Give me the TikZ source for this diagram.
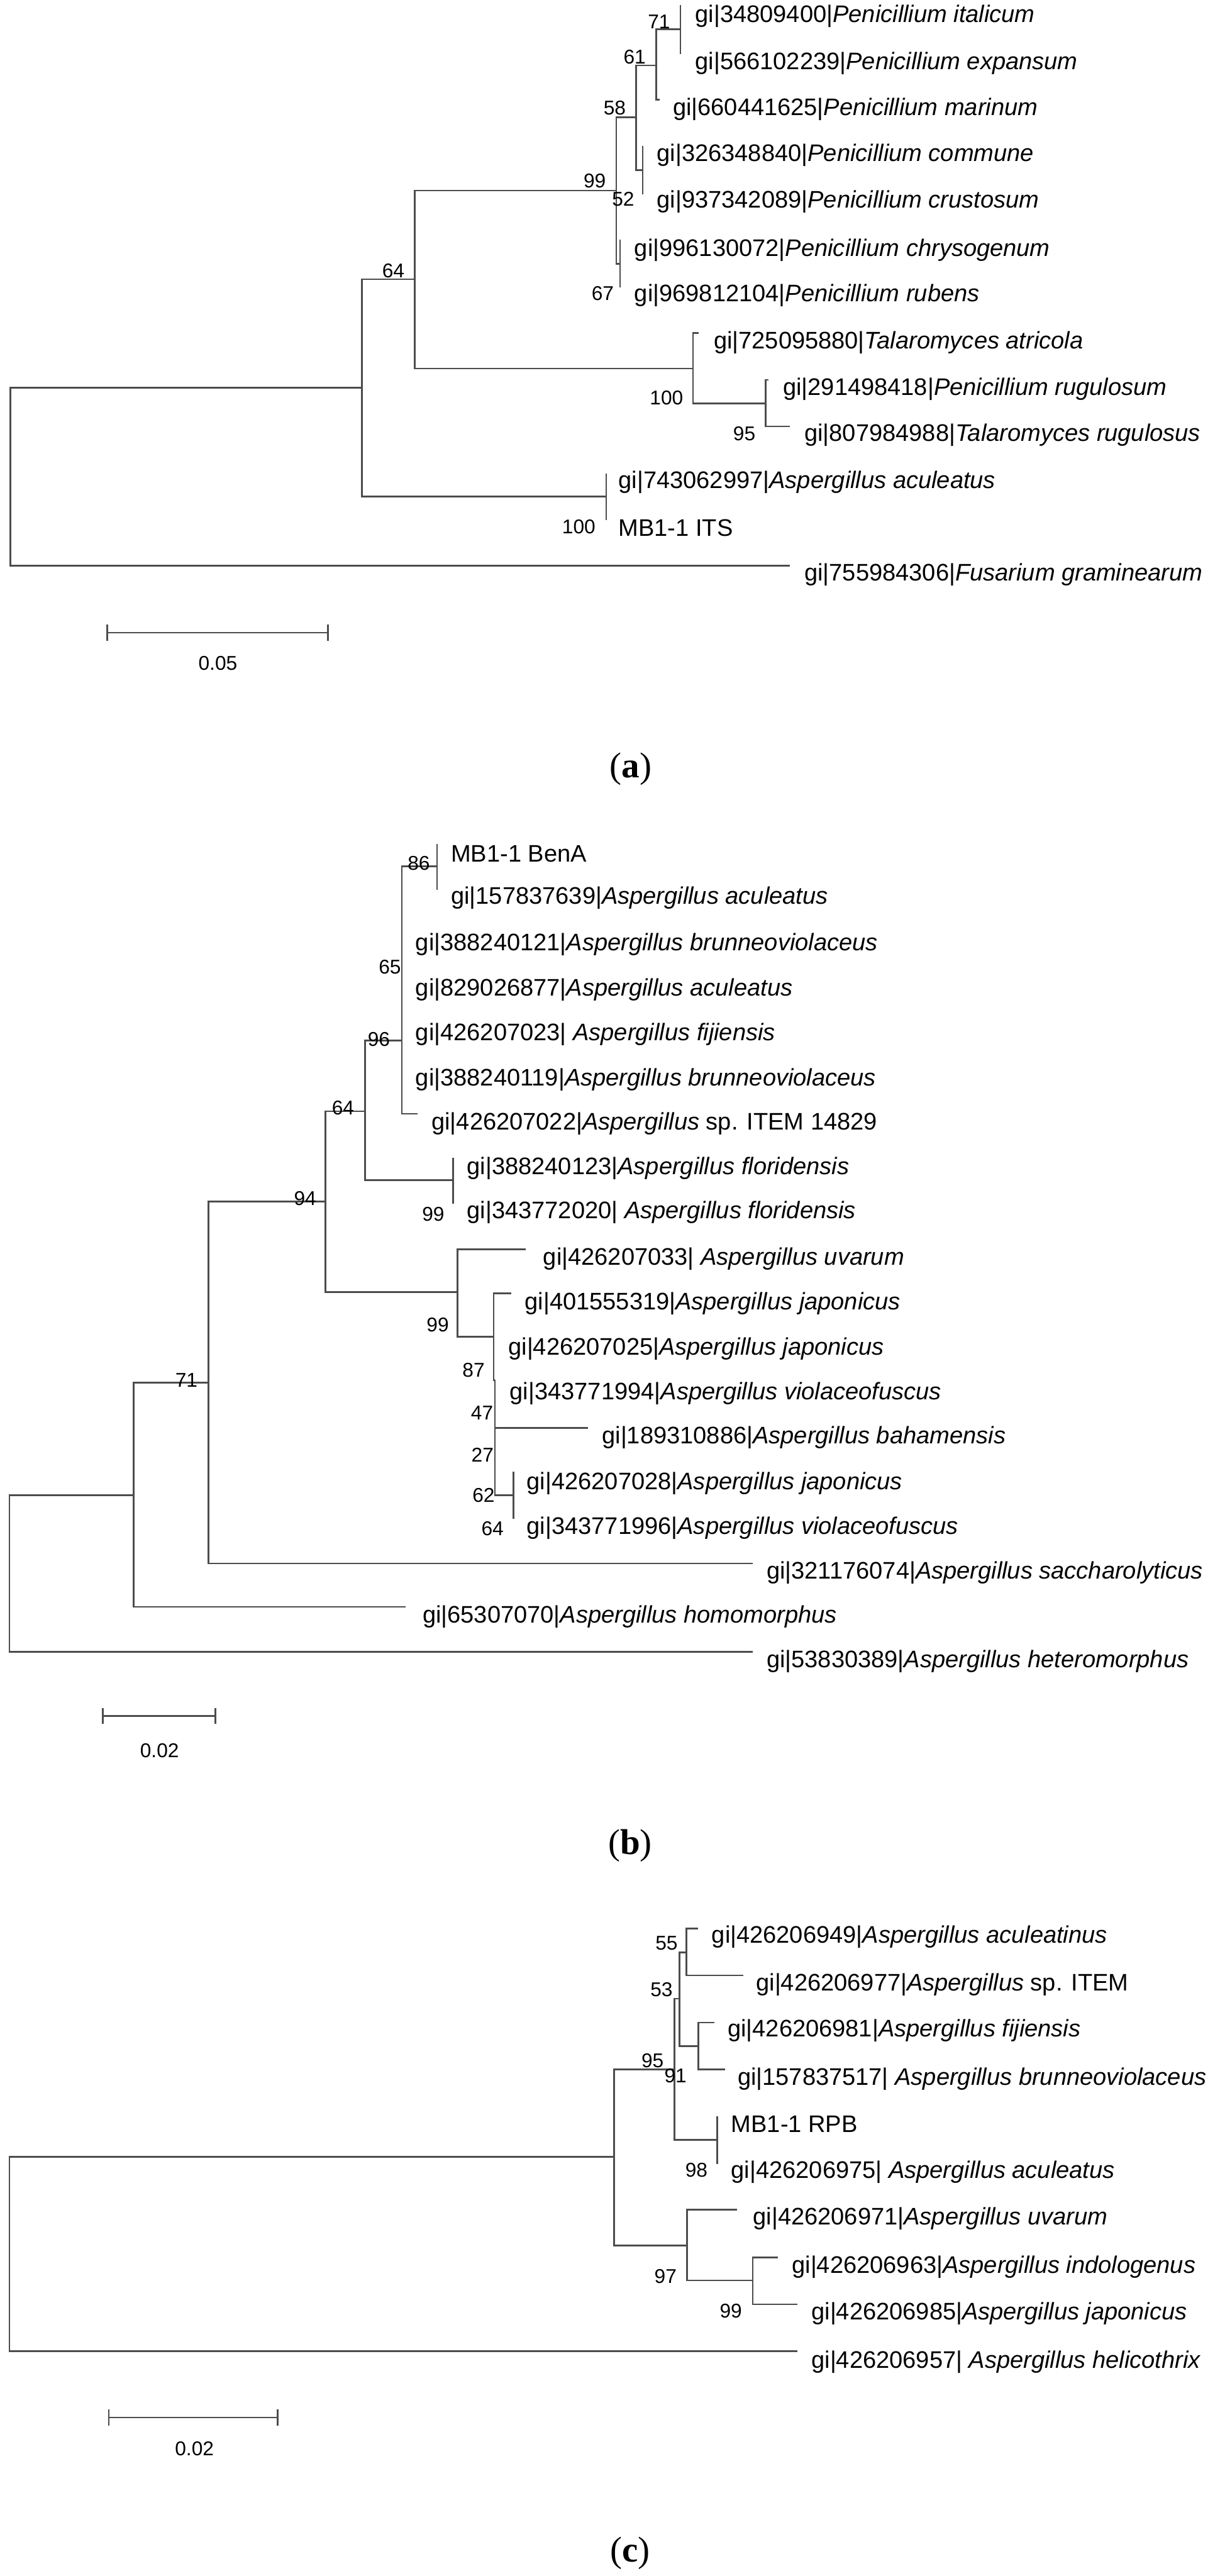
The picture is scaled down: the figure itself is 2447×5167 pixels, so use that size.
\documentclass[tikz,border=0pt]{standalone}
\usepackage{fontspec}
\setmainfont{Liberation Sans}
\newfontfamily\capfont{Liberation Serif}
\begin{document}
\begin{tikzpicture}[x=0.25pt,y=-0.25pt,
  br/.style={draw=black!70,line width=0.8pt},
  leaf/.style={anchor=west,inner sep=0pt,font=\fontsize{12}{14}\selectfont},
  bs/.style={inner sep=0pt,font=\fontsize{10}{12}\selectfont},
  captext/.style={inner sep=0pt,font=\capfont\fontsize{18}{20}\selectfont}]
\useasboundingbox (0,0) rectangle (2447,5167);
% ================= tree (a) =================
\coordinate (aR) at (21,956);
\coordinate (a64) at (726,778);
\coordinate (aA) at (832,560);
\coordinate (a99) at (1236,382);
\coordinate (a58) at (1276,235);
\coordinate (a61) at (1316,131);
\coordinate (a71) at (1365,59);
\coordinate (a52) at (1289,341);
\coordinate (a67) at (1244,529);
\coordinate (aT) at (1390,739);
\coordinate (a95) at (1536,809);
\coordinate (aMB) at (1216,996);
\coordinate (ta1) at (1366,12);
\coordinate (ta2) at (1366,107);
\coordinate (ta3) at (1323,200);
\coordinate (ta4) at (1290,294);
\coordinate (ta5) at (1290,388);
\coordinate (ta6) at (1245,482);
\coordinate (ta7) at (1245,575);
\coordinate (ta8) at (1402,668);
\coordinate (ta9) at (1542,762);
\coordinate (ta10) at (1585,855);
\coordinate (ta11) at (1217,952);
\coordinate (ta12) at (1217,1042);
\coordinate (ta13) at (1585,1135);
\draw[br] (aR) |- (a64); \draw[br] (aR) |- (ta13);
\draw[br] (a64) |- (aA); \draw[br] (a64) |- (aMB);
\draw[br] (aA) |- (a99); \draw[br] (aA) |- (aT);
\draw[br] (a99) |- (a58); \draw[br] (a99) |- (a67);
\draw[br] (a58) |- (a61); \draw[br] (a58) |- (a52);
\draw[br] (a61) |- (a71); \draw[br] (a61) |- (ta3);
\draw[br] (a71) |- (ta1); \draw[br] (a71) |- (ta2);
\draw[br] (a52) |- (ta4); \draw[br] (a52) |- (ta5);
\draw[br] (a67) |- (ta6); \draw[br] (a67) |- (ta7);
\draw[br] (aT) |- (ta8); \draw[br] (aT) |- (a95);
\draw[br] (a95) |- (ta9); \draw[br] (a95) |- (ta10);
\draw[br] (aMB) |- (ta11); \draw[br] (aMB) |- (ta12);
\node[leaf] (la1) at (1394,33) {gi|34809400|\textit{Penicillium italicum}};
\node[leaf] (la2) at (1394,127) {gi|566102239|\textit{Penicillium expansum}};
\node[leaf] (la3) at (1349,219) {gi|660441625|\textit{Penicillium marinum}};
\node[leaf] (la4) at (1317,311) {gi|326348840|\textit{Penicillium commune}};
\node[leaf] (la5) at (1317,405) {gi|937342089|\textit{Penicillium crustosum}};
\node[leaf] (la6) at (1272,502) {gi|996130072|\textit{Penicillium chrysogenum}};
\node[leaf] (la7) at (1272,592) {gi|969812104|\textit{Penicillium rubens}};
\node[leaf] (la8) at (1431,687) {gi|725095880|\textit{Talaromyces atricola}};
\node[leaf] (la9) at (1570,780) {gi|291498418|\textit{Penicillium rugulosum}};
\node[leaf] (la10) at (1613,872) {gi|807984988|\textit{Talaromyces rugulosus}};
\node[leaf] (la11) at (1240,967) {gi|743062997|\textit{Aspergillus aculeatus}};
\node[leaf] (la12) at (1240,1059) {MB1-1 ITS};
\node[leaf] (la13) at (1613,1153) {gi|755984306|\textit{Fusarium graminearum}};
\node[bs] (ba1) at (1322,44) {71};
\node[bs] (ba2) at (1273,114) {61};
\node[bs] (ba3) at (1233,216) {58};
\node[bs] (ba4) at (1193,363) {99};
\node[bs] (ba5) at (1250,400) {52};
\node[bs] (ba6) at (1209,588) {67};
\node[bs] (ba7) at (789,543) {64};
\node[bs] (ba8) at (1337,798) {100};
\node[bs] (ba9) at (1493,870) {95};
\node[bs] (ba10) at (1161,1057) {100};
\coordinate (sa1) at (215,1269);
\coordinate (sa2) at (658,1269);
\draw[br] (sa1) -- (sa2);
\draw[br] (sa1) ++(0,-16) -- ++(0,32);
\draw[br] (sa2) ++(0,-16) -- ++(0,32);
\node[bs] (sla) at (437,1330) {0.05};
\node[captext] (capa) at (1265,1543) {(\textbf{a})};
% ================= tree (b) =================
\coordinate (bR) at (19,3156);
\coordinate (b71) at (268,2999);
\coordinate (b94) at (418,2773);
\coordinate (b64) at (653,2410);
\coordinate (b96) at (732,2229);
\coordinate (b65) at (806,2087);
\coordinate (b86) at (877,1738);
\coordinate (bFl) at (909,2367);
\coordinate (b99) at (918,2592);
\coordinate (b87) at (990,2681);
\coordinate (b47) at (993,2768);
\coordinate (b62) at (1030,2999);
\coordinate (tb1) at (878,1695);
\coordinate (tb2) at (878,1784);
\coordinate (tb3) at (806,1875);
\coordinate (tb7) at (838,2234);
\coordinate (tb8) at (910,2324);
\coordinate (tb9) at (910,2413);
\coordinate (tb10) at (1055,2506);
\coordinate (tb11) at (1025,2594);
\coordinate (tb14) at (1180,2864);
\coordinate (tb15) at (1031,2953);
\coordinate (tb16) at (1031,3045);
\coordinate (tb17) at (1510,3136);
\coordinate (tb18) at (814,3223);
\coordinate (tb19) at (1510,3313);
\draw[br] (bR) |- (b71); \draw[br] (bR) |- (tb19);
\draw[br] (b71) |- (b94); \draw[br] (b71) |- (tb18);
\draw[br] (b94) |- (b64); \draw[br] (b94) |- (tb17);
\draw[br] (b64) |- (b96); \draw[br] (b64) |- (b99);
\draw[br] (b96) |- (b65); \draw[br] (b96) |- (bFl);
\draw[br] (b65) |- (b86); \draw[br] (b65) |- (tb7); \draw[br] (b65) |- (tb3);
\draw[br] (b86) |- (tb1); \draw[br] (b86) |- (tb2);
\draw[br] (bFl) |- (tb8); \draw[br] (bFl) |- (tb9);
\draw[br] (b99) |- (tb10); \draw[br] (b99) |- (b87);
\draw[br] (b87) |- (tb11); \draw[br] (b87) |- (b47);
\draw[br] (b47) |- (tb14); \draw[br] (b47) |- (b62);
\draw[br] (b62) |- (tb15); \draw[br] (b62) |- (tb16);
\node[leaf] (lb1) at (904,1713) {MB1-1 BenA};
\node[leaf] (lb2) at (904,1801) {gi|157837639|\textit{Aspergillus aculeatus}};
\node[leaf] (lb3) at (833,1894) {gi|388240121|\textit{Aspergillus brunneoviolaceus}};
\node[leaf] (lb4) at (833,1985) {gi|829026877|\textit{Aspergillus aculeatus}};
\node[leaf] (lb5) at (833,2075) {gi|426207023| \textit{Aspergillus fijiensis}};
\node[leaf] (lb6) at (833,2165) {gi|388240119|\textit{Aspergillus brunneoviolaceus}};
\node[leaf] (lb7) at (865,2254) {gi|426207022|\textit{Aspergillus} sp. ITEM 14829};
\node[leaf] (lb8) at (936,2343) {gi|388240123|\textit{Aspergillus floridensis}};
\node[leaf] (lb9) at (936,2432) {gi|343772020| \textit{Aspergillus floridensis}};
\node[leaf] (lb10) at (1089,2525) {gi|426207033| \textit{Aspergillus uvarum}};
\node[leaf] (lb11) at (1052,2615) {gi|401555319|\textit{Aspergillus japonicus}};
\node[leaf] (lb12) at (1019,2705) {gi|426207025|\textit{Aspergillus japonicus}};
\node[leaf] (lb13) at (1022,2795) {gi|343771994|\textit{Aspergillus violaceofuscus}};
\node[leaf] (lb14) at (1207,2884) {gi|189310886|\textit{Aspergillus bahamensis}};
\node[leaf] (lb15) at (1056,2975) {gi|426207028|\textit{Aspergillus japonicus}};
\node[leaf] (lb16) at (1056,3065) {gi|343771996|\textit{Aspergillus violaceofuscus}};
\node[leaf] (lb17) at (1537,3154) {gi|321176074|\textit{Aspergillus saccharolyticus}};
\node[leaf] (lb18) at (847,3243) {gi|65307070|\textit{Aspergillus homomorphus}};
\node[leaf] (lb19) at (1537,3332) {gi|53830389|\textit{Aspergillus heteromorphus}};
\node[bs] (bb1) at (840,1731) {86};
\node[bs] (bb2) at (782,1939) {65};
\node[bs] (bb3) at (760,2085) {96};
\node[bs] (bb4) at (688,2222) {64};
\node[bs] (bb5) at (869,2435) {99};
\node[bs] (bb6) at (612,2404) {94};
\node[bs] (bb7) at (878,2657) {99};
\node[bs] (bb8) at (950,2748) {87};
\node[bs] (bb9) at (967,2834) {47};
\node[bs] (bb10) at (968,2918) {27};
\node[bs] (bb11) at (970,2999) {62};
\node[bs] (bb12) at (988,3066) {64};
\node[bs] (bb13) at (374,2768) {71};
\coordinate (sb1) at (206,3442);
\coordinate (sb2) at (432,3442);
\draw[br] (sb1) -- (sb2);
\draw[br] (sb1) ++(0,-16) -- ++(0,32);
\draw[br] (sb2) ++(0,-16) -- ++(0,32);
\node[bs] (slb) at (320,3512) {0.02};
\node[captext] (capb) at (1264,3702) {(\textbf{b})};
% ================= tree (c) =================
\coordinate (cR) at (19,4521);
\coordinate (cX) at (1232,4326);
\coordinate (c95) at (1353,4151);
\coordinate (c53) at (1363,4009);
\coordinate (c55) at (1377,3916);
\coordinate (cF) at (1401,4104);
\coordinate (c98) at (1439,4292);
\coordinate (c97) at (1378,4504);
\coordinate (c99) at (1510,4574);
\coordinate (tc1) at (1400,3868);
\coordinate (tc2) at (1491,3962);
\coordinate (tc3) at (1433,4057);
\coordinate (tc4) at (1455,4151);
\coordinate (tc5) at (1440,4246);
\coordinate (tc6) at (1440,4339);
\coordinate (tc7) at (1479,4432);
\coordinate (tc8) at (1560,4528);
\coordinate (tc9) at (1599,4622);
\coordinate (tc10) at (1599,4716);
\draw[br] (cR) |- (cX); \draw[br] (cR) |- (tc10);
\draw[br] (cX) |- (c95); \draw[br] (cX) |- (c97);
\draw[br] (c95) |- (c53); \draw[br] (c95) |- (c98);
\draw[br] (c53) |- (c55); \draw[br] (c53) |- (cF);
\draw[br] (c55) |- (tc1); \draw[br] (c55) |- (tc2);
\draw[br] (cF) |- (tc3); \draw[br] (cF) |- (tc4);
\draw[br] (c98) |- (tc5); \draw[br] (c98) |- (tc6);
\draw[br] (c97) |- (tc7); \draw[br] (c97) |- (c99);
\draw[br] (c99) |- (tc8); \draw[br] (c99) |- (tc9);
\node[leaf] (lc1) at (1427,3885) {gi|426206949|\textit{Aspergillus aculeatinus}};
\node[leaf] (lc2) at (1516,3981) {gi|426206977|\textit{Aspergillus} sp. ITEM};
\node[leaf] (lc3) at (1459,4073) {gi|426206981|\textit{Aspergillus fijiensis}};
\node[leaf] (lc4) at (1479,4170) {gi|157837517| \textit{Aspergillus brunneoviolaceus}};
\node[leaf] (lc5) at (1466,4261) {MB1-1 RPB};
\node[leaf] (lc6) at (1466,4357) {gi|426206975| \textit{Aspergillus aculeatus}};
\node[leaf] (lc7) at (1510,4450) {gi|426206971|\textit{Aspergillus uvarum}};
\node[leaf] (lc8) at (1588,4547) {gi|426206963|\textit{Aspergillus indologenus}};
\node[leaf] (lc9) at (1627,4640) {gi|426206985|\textit{Aspergillus japonicus}};
\node[leaf] (lc10) at (1627,4738) {gi|426206957| \textit{Aspergillus helicothrix}};
\node[bs] (bc1) at (1337,3897) {55};
\node[bs] (bc2) at (1327,3991) {53};
\node[bs] (bc3) at (1309,4133) {95};
\node[bs] (bc4) at (1355,4164) {91};
\node[bs] (bc5) at (1397,4353) {98};
\node[bs] (bc6) at (1335,4566) {97};
\node[bs] (bc7) at (1466,4635) {99};
\coordinate (sc1) at (218,4849);
\coordinate (sc2) at (557,4849);
\draw[br] (sc1) -- (sc2);
\draw[br] (sc1) ++(0,-16) -- ++(0,32);
\draw[br] (sc2) ++(0,-16) -- ++(0,32);
\node[bs] (slc) at (390,4912) {0.02};
\node[captext] (capc) at (1264,5121) {(\textbf{c})};
\end{tikzpicture}
\end{document}
